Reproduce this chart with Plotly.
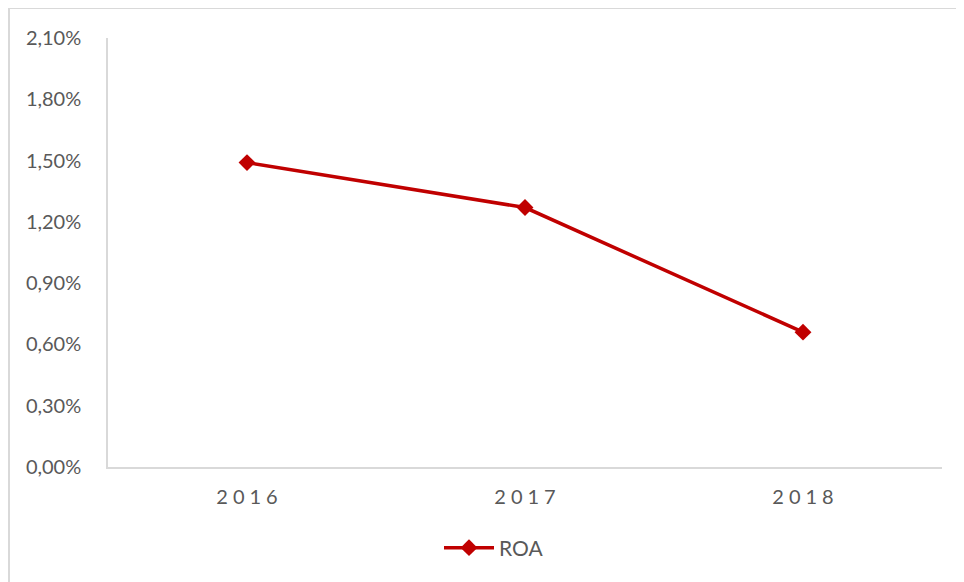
import plotly.graph_objects as go

years = ["2016", "2017", "2018"]
year_labels = ["2\u20050\u20051\u20056", "2\u20050\u20051\u20057", "2\u20050\u20051\u20058"]
roa = [1.49, 1.27, 0.66]  # percent

# page body has an 8px margin, so the figure starts at (8, 8) of the window
OFF = 8
W, H = 964 - OFF, 582 - OFF
L, T = 108 - OFF, 38 - OFF
R = 964 - 942
B = H - (467 - OFF)
pw, ph = W - L - R, H - T - B


def px_x(px):
    return (px - OFF - L) / pw


def px_y(py):
    return (467 - py) / ph


grey = "#595959"
red = "#C00000"

fig = go.Figure()
fig.add_trace(go.Scatter(
    x=years, y=roa, name="ROA", mode="lines+markers",
    line=dict(color=red, width=3.5),
    marker=dict(symbol="diamond", size=13, color=red),
))

fig.update_layout(
    width=W, height=H,
    margin=dict(l=L, r=R, t=T, b=B),
    paper_bgcolor="white", plot_bgcolor="white",
    separators=",.",
    font=dict(family="Lato, Liberation Sans, sans-serif", size=20, color=grey),
    showlegend=True,
    legend=dict(orientation="h", x=px_x(494), xanchor="center",
                y=px_y(548), yanchor="middle", font=dict(size=21, color=grey),
                itemwidth=50),
    xaxis=dict(
        type="category", tickvals=years, ticktext=year_labels,
        range=[-0.5, 2.5],
        showline=True, linecolor="#d9d9d9", linewidth=1.5,
        showgrid=False, ticks="", ticklabelstandoff=11,
        tickfont=dict(size=20, color=grey), fixedrange=True,
    ),
    yaxis=dict(
        range=[0, 2.1], dtick=0.3, tick0=0, tickformat=".2f", ticksuffix="%",
        showline=True, linecolor="#d9d9d9", linewidth=1.5,
        showgrid=False, zeroline=False, ticks="", ticklabelstandoff=21,
        tickfont=dict(size=20, color=grey), fixedrange=True,
    ),
    shapes=[dict(
        type="rect", xref="paper", yref="paper",
        x0=px_x(9), x1=px_x(990), y0=px_y(610), y1=px_y(8),
        line=dict(color="#d9d9d9", width=2), layer="below",
    )],
)

fig.write_html("out.html")
